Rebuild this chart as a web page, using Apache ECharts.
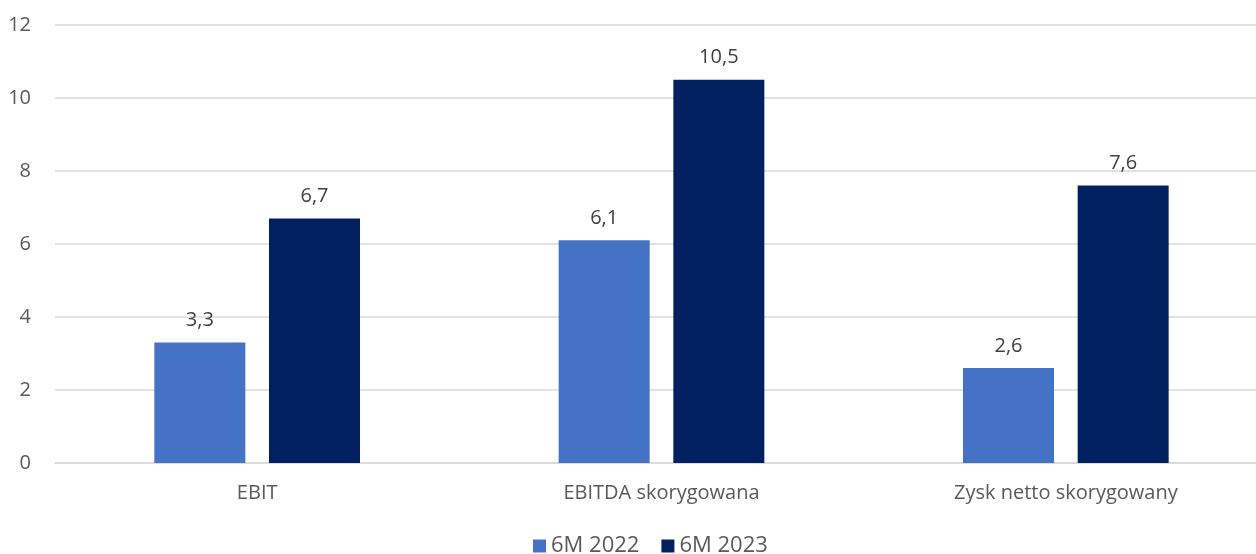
<!DOCTYPE html>
<html>
<head>
<meta charset="utf-8">
<style>
  html, body { margin: 0; padding: 0; background: #fff; }
  #chart { width: 1256px; height: 554px; }
</style>
<script src="https://cdn.jsdelivr.net/npm/echarts@6/dist/echarts.min.js"></script>
</head>
<body>
<div id="chart"></div>
<script>
// dane z wykresu
const categories = ['EBIT', 'EBITDA skorygowana', 'Zysk netto skorygowany']
const seriesNames = ['6M 2022', '6M 2023']
const values2022 = [3.3, 6.1, 2.6]
const values2023 = [6.7, 10.5, 7.6]
const seriesColors = ['#4472C4', '#002060']

const fontFamily = '"Open Sans", "Noto Sans", sans-serif'
const fmt = v => String(v.toFixed(1)).replace('.', ',')

const chart = echarts.init(document.getElementById('chart'))

const labelStyle = {
  show: true,
  position: 'top',
  distance: 12,
  color: '#404040',
  fontSize: 20,
  fontFamily: fontFamily,
  formatter: p => fmt(p.value)
}

chart.setOption({
  animation: false,
  grid: { left: 55, right: -12, top: 25, bottom: 91, containLabel: false, outerBoundsMode: 'none' },
  legend: {
    bottom: -8,
    left: 528,
    itemWidth: 13,
    itemHeight: 13,
    itemGap: 22,
    icon: 'rect',
    textStyle: { color: '#595959', fontSize: 22, fontFamily: fontFamily },
    data: seriesNames
  },
  xAxis: {
    type: 'category',
    data: categories,
    axisLine: { show: true, lineStyle: { color: '#D9D9D9', width: 1.5 } },
    axisTick: { show: false },
    axisLabel: { color: '#595959', fontSize: 20, fontFamily: fontFamily, margin: 20 }
  },
  yAxis: {
    type: 'value',
    min: 0,
    max: 12,
    interval: 2,
    axisLine: { show: false },
    axisTick: { show: false },
    splitLine: { lineStyle: { color: '#D9D9D9', width: 1.5 } },
    axisLabel: { color: '#595959', fontSize: 20, fontFamily: fontFamily, margin: 24 }
  },
  series: [
    {
      name: seriesNames[0],
      type: 'bar',
      data: values2022,
      barWidth: 91,
      barGap: '26%',
      itemStyle: { color: seriesColors[0] },
      label: labelStyle
    },
    {
      name: seriesNames[1],
      type: 'bar',
      data: values2023,
      barWidth: 91,
      itemStyle: { color: seriesColors[1] },
      label: labelStyle
    }
  ]
})

window.addEventListener('resize', () => chart.resize())
</script>
</body>
</html>
